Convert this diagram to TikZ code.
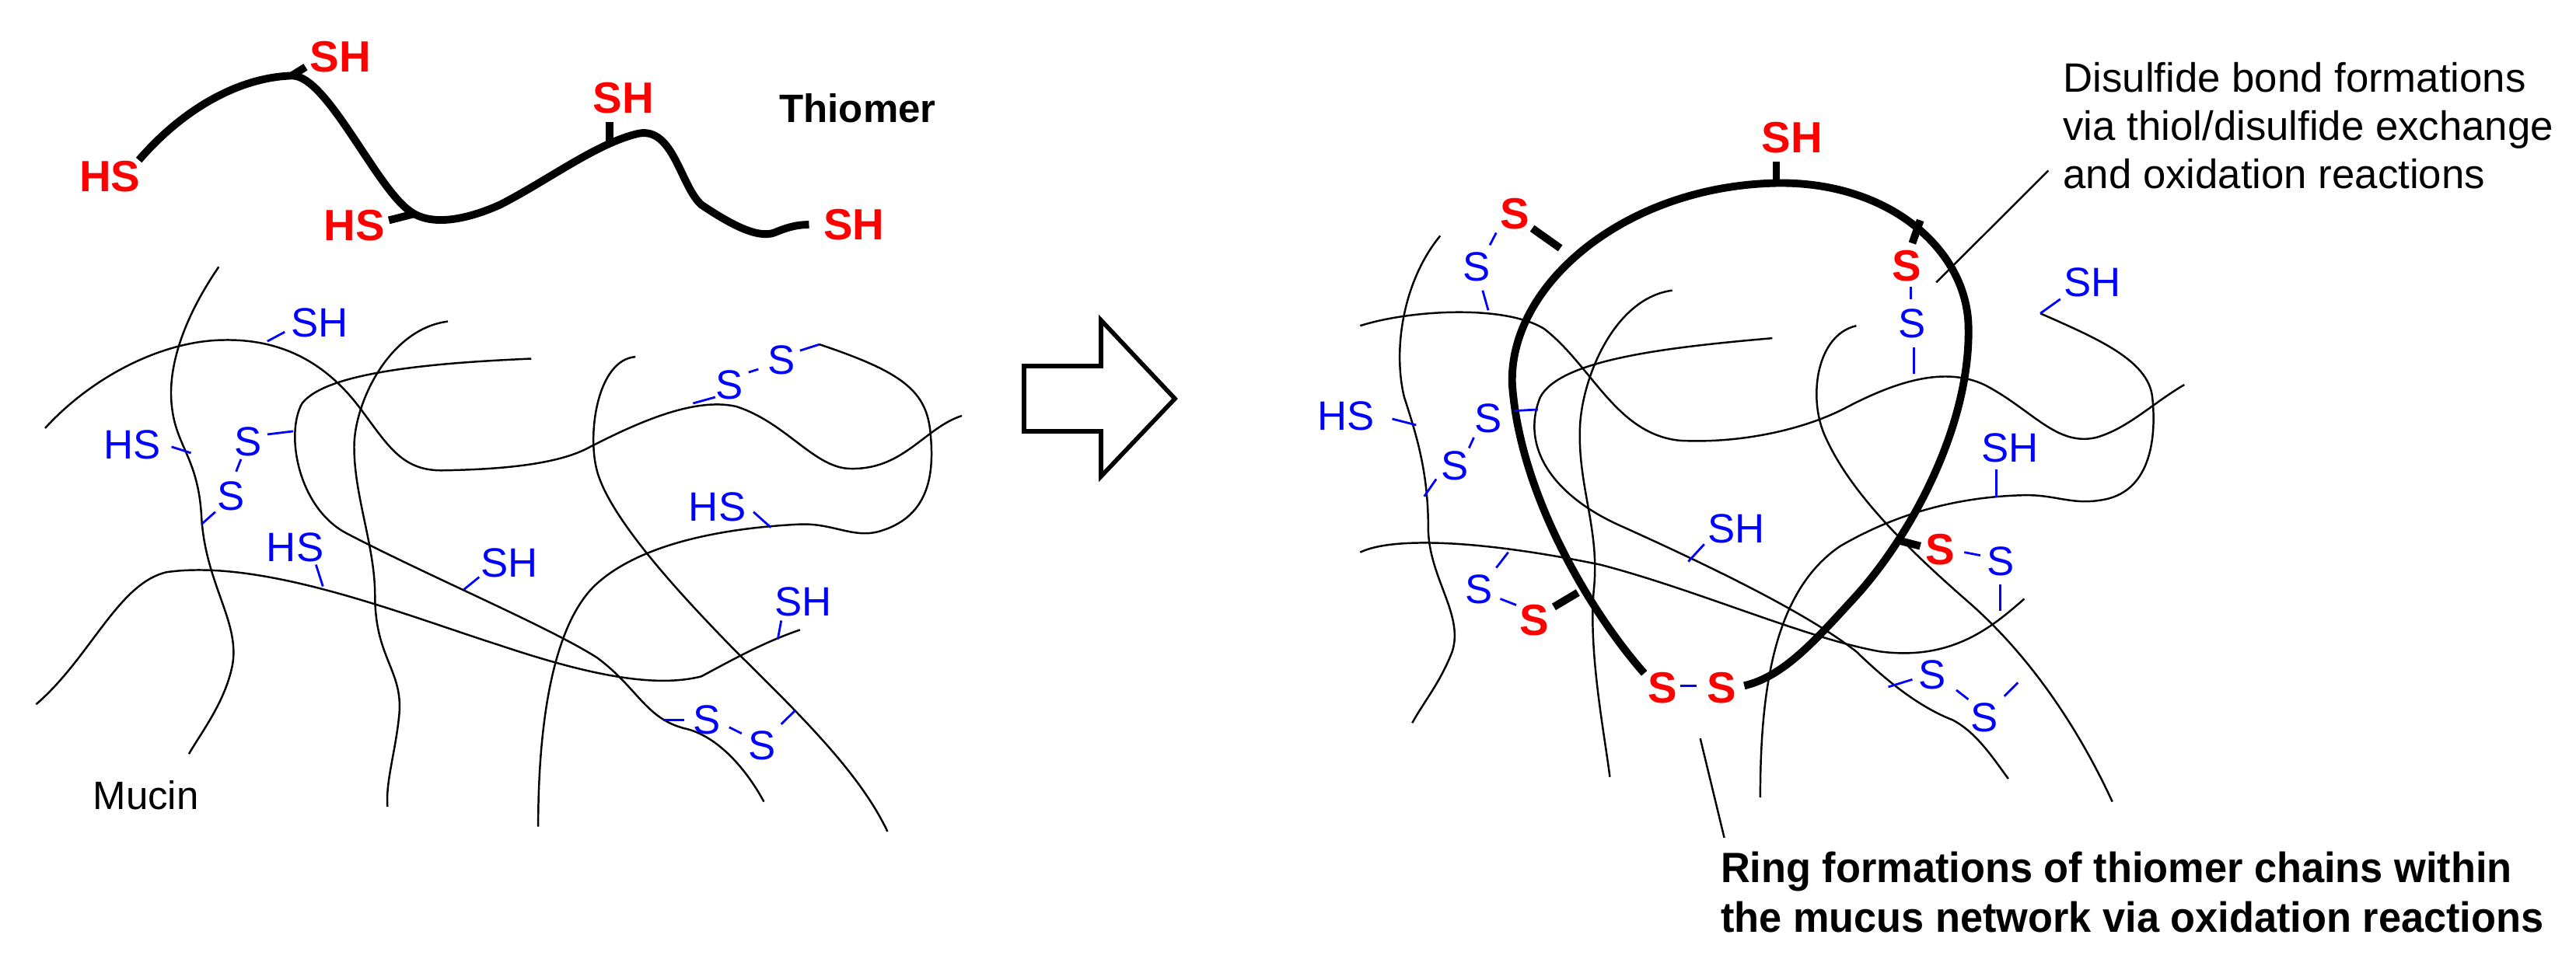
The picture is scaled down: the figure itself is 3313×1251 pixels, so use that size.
\documentclass[tikz,border=0pt]{standalone}
\usepackage{fontspec}
\setmainfont{Liberation Sans}
\begin{document}
\begin{tikzpicture}[x=0.01cm,y=-0.01cm,
  mu/.style={line width=0.7pt},
  th/.style={line width=2.8pt},
  bl/.style={text=blue,font=\fontsize{15}{15}\selectfont,inner sep=0pt},
  rd/.style={text=red,font=\bfseries\fontsize{16}{16}\selectfont,inner sep=0pt},
  tk/.style={blue,line width=0.8pt},
  rtk/.style={line width=2.8pt},
  L/.style={x=0.008929cm,y=-0.007978cm},
  R/.style={x=0.010287cm,y=-0.007978cm,shift={(1700,0)}}]
\useasboundingbox (0,0) rectangle (3313,1251);
% ---------- LEFT ----------
\begin{scope}[L]
\draw[th] (200,258) .. controls (260,180) and (340,125) .. (420,122) .. controls (470,120) and (540,300) .. (590,340) .. controls (620,365) and (670,355) .. (720,330) .. controls (790,290) and (860,230) .. (920,215) .. controls (970,205) and (980,300) .. (1010,330) .. controls (1050,360) and (1090,385) .. (1115,375) .. controls (1130,368) and (1145,362) .. (1165,362);
\draw[rtk] (420,122)--(440,108); \draw[rtk] (595,345)--(560,355); \draw[rtk] (878,230)--(878,196);
\node[rd] (l1) at (158,284) {HS}; \node[rd] (l2) at (490,92) {SH}; \node[rd] (l3) at (510,363) {HS};
\node[rd] (l4) at (898,158) {SH}; \node[rd] (l5) at (1230,362) {SH};
\node[font=\bfseries\fontsize{14.5}{14.5}\selectfont] (thio) at (1235,175) {Thiomer};
\node[font=\fontsize{14.5}{14.5}\selectfont] (mucin) at (210,1282) {Mucin};
\begin{scope}[mu]
\draw (315,430) .. controls (260,520) and (240,600) .. (248,660) .. controls (255,720) and (285,740) .. (290,830) .. controls (295,940) and (345,1000) .. (335,1070) .. controls (325,1130) and (290,1180) .. (272,1215);
\draw (65,690) .. controls (130,610) and (230,550) .. (320,548) .. controls (420,545) and (480,600) .. (520,660) .. controls (560,720) and (580,760) .. (640,758) .. controls (740,756) and (810,745) .. (850,720) .. controls (920,680) and (1000,640) .. (1060,655) .. controls (1130,680) and (1170,750) .. (1220,755) .. controls (1300,760) and (1330,690) .. (1385,670);
\draw (765,578) .. controls (620,585) and (470,600) .. (435,650) .. controls (410,700) and (430,820) .. (500,860) .. controls (620,930) and (790,1010) .. (860,1060) .. controls (920,1110) and (930,1160) .. (990,1175) .. controls (1040,1190) and (1080,1250) .. (1100,1292);
\draw (645,518) .. controls (560,530) and (510,650) .. (510,720) .. controls (510,800) and (540,880) .. (540,960) .. controls (540,1060) and (580,1080) .. (575,1150) .. controls (570,1210) and (555,1260) .. (558,1300);
\draw (915,575) .. controls (860,580) and (845,700) .. (860,760) .. controls (880,840) and (990,970) .. (1060,1050) .. controls (1160,1160) and (1240,1250) .. (1278,1340);
\draw (775,1332) .. controls (775,1150) and (800,1000) .. (860,940) .. controls (930,870) and (1060,850) .. (1150,845) .. controls (1200,842) and (1230,870) .. (1270,855) .. controls (1340,830) and (1345,760) .. (1340,700) .. controls (1335,630) and (1300,600) .. (1180,555);
\draw (52,1135) .. controls (130,1060) and (170,940) .. (240,922) .. controls (380,900) and (580,990) .. (720,1040) .. controls (840,1085) and (940,1110) .. (1010,1090) .. controls (1060,1060) and (1100,1035) .. (1152,1015);
\end{scope}
% blue
\node[bl] at (460,520) {SH}; \draw[tk] (385,550)--(410,535);
\node[bl] at (190,717) {HS}; \draw[tk] (247,720)--(275,730);
\node[bl] at (357,712) {S}; \draw[tk] (385,700)--(422,695); \draw[tk] (347,740)--(340,760);
\node[bl] at (333,800) {S}; \draw[tk] (310,825)--(290,845);
\node[bl] at (425,882) {HS}; \draw[tk] (455,910)--(465,945);
\node[bl] at (733,907) {SH}; \draw[tk] (690,930)--(668,950);
\node[bl] at (1050,620) {S}; \draw[tk] (1030,640)--(998,650); \draw[tk] (1078,600)--(1092,595);
\node[bl] at (1125,580) {S}; \draw[tk] (1152,565)--(1180,555);
\node[bl] at (1033,817) {HS}; \draw[tk] (1085,825)--(1110,850);
\node[bl] at (1157,970) {SH}; \draw[tk] (1125,1000)--(1120,1030);
\node[bl] at (1018,1160) {S}; \draw[tk] (985,1160)--(955,1160); \draw[tk] (1050,1172)--(1068,1182);
\node[bl] at (1097,1202) {S}; \draw[tk] (1125,1167)--(1145,1145);
\end{scope}
% ---------- ARROW ----------
\draw[line width=1.6pt,fill=white] (1317,471)--(1416,471)--(1416,412)--(1511,513)--(1416,613)--(1416,555)--(1317,555)--cycle;
% ---------- RIGHT ----------
\begin{scope}[R]
\begin{scope}[mu]
\draw (100,380) .. controls (55,450) and (40,560) .. (55,640) .. controls (70,700) and (85,760) .. (85,850) .. controls (85,930) and (130,990) .. (115,1050) .. controls (100,1100) and (80,1130) .. (65,1165);
\draw (0,525) .. controls (60,500) and (180,490) .. (230,530) .. controls (290,590) and (320,700) .. (400,710) .. controls (480,715) and (560,690) .. (610,655) .. controls (670,615) and (730,590) .. (780,620) .. controls (840,660) and (870,720) .. (920,705) .. controls (960,690) and (990,650) .. (1030,620);
\draw (515,545) .. controls (380,560) and (250,580) .. (225,640) .. controls (200,720) and (240,800) .. (330,850) .. controls (450,920) and (560,990) .. (620,1050) .. controls (660,1100) and (700,1140) .. (740,1160) .. controls (770,1180) and (790,1220) .. (810,1255);
\draw (390,468) .. controls (320,480) and (280,600) .. (275,680) .. controls (270,780) and (300,850) .. (292,950) .. controls (285,1050) and (305,1180) .. (312,1252);
\draw (620,525) .. controls (570,540) and (560,640) .. (580,700) .. controls (610,790) and (680,880) .. (760,970) .. controls (840,1060) and (900,1180) .. (940,1292);
\draw (500,1285) .. controls (500,1100) and (520,950) .. (600,880) .. controls (680,820) and (760,800) .. (830,798) .. controls (870,797) and (890,815) .. (930,805) .. controls (990,790) and (995,700) .. (990,640) .. controls (985,580) and (920,545) .. (850,505);
\draw (0,890) .. controls (40,865) and (150,870) .. (300,910) .. controls (420,950) and (560,1030) .. (650,1050) .. controls (740,1065) and (790,1010) .. (830,965);
\end{scope}
\draw[mu] (425,1190)--(455,1350);
% ring
\draw[th] (355,1085) .. controls (290,990) and (200,800) .. (190,620) .. controls (185,460) and (330,300) .. (520,295) .. controls (660,292) and (755,400) .. (760,520) .. controls (765,680) and (690,860) .. (620,960) .. controls (570,1030) and (530,1090) .. (480,1105);
\draw[rtk] (520,295)--(520,260); \node[rd] at (540,222) {SH};
\draw[rtk] (250,400)--(215,368); \node[rd] at (193,345) {S}; \draw[tk] (170,375)--(162,395);
\node[bl] at (145,430) {S}; \draw[tk] (153,468)--(160,500);
\draw[rtk] (700,355)--(690,392); \node[rd] at (683,428) {S}; \draw[tk] (688,462)--(688,482);
\node[bl] at (690,522) {S}; \draw[tk] (692,560)--(692,603);
\draw[rtk] (670,870)--(700,880); \node[rd] at (725,885) {S}; \draw[tk] (755,890)--(775,895);
\node[bl] at (800,905) {S}; \draw[tk] (800,942)--(800,985);
\draw[rtk] (272,955)--(242,978); \node[rd] at (218,1000) {S}; \draw[tk] (195,975)--(175,965);
\node[bl] at (148,950) {S}; \draw[tk] (170,915)--(185,890);
\node[rd] at (378,1108) {S}; \draw[tk] (400,1105)--(420,1105); \node[rd] at (452,1108) {S};
% blue
\node[bl] at (915,455) {SH}; \draw[tk] (875,482)--(850,505);
\node[bl] at (-18,670) {HS}; \draw[tk] (40,675)--(70,685);
\node[bl] at (160,674) {S}; \draw[tk] (192,662)--(222,660); \draw[tk] (142,705)--(136,722);
\node[bl] at (118,750) {S}; \draw[tk] (95,772)--(80,800);
\node[bl] at (470,852) {SH}; \draw[tk] (430,877)--(410,905);
\node[bl] at (812,722) {SH}; \draw[tk] (795,757)--(795,800);
\node[bl] at (715,1087) {S}; \draw[tk] (690,1095)--(660,1107); \draw[tk] (745,1112)--(760,1127);
\node[bl] at (780,1157) {S}; \draw[tk] (805,1122)--(822,1100);
\draw[mu] (860,275)--(720,455);
\node[font=\fontsize{15}{17.6}\selectfont,align=left,anchor=north west,inner sep=0pt] (t1) at (878,100) {Disulfide bond formations\\via thiol/disulfide exchange\\and oxidation reactions};
\node[font=\bfseries\fontsize{15.5}{18.2}\selectfont,align=left,anchor=north west,transform shape,xscale=0.96,inner sep=0pt] (t2) at (450,1372) {Ring formations of thiomer chains within\\the mucus network via oxidation reactions};
\end{scope}
\end{tikzpicture}
\end{document}
